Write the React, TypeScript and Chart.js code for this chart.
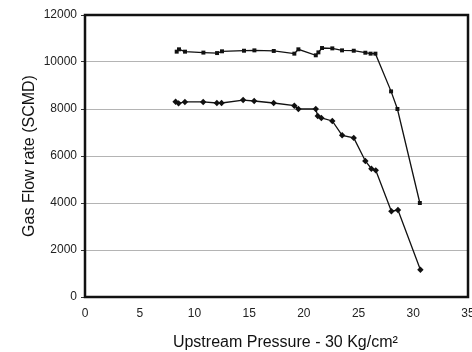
import React, { useEffect, useRef } from "react";
import { Chart, registerables } from "chart.js";

Chart.register(...registerables);

// Upper series (square markers)
const upperX = [8.38, 8.59, 9.14, 10.82, 12.07, 12.52, 14.53, 15.48, 17.25, 19.13, 19.5, 21.09, 21.33, 21.66, 22.6, 23.49, 24.56, 25.62, 26.1, 26.54, 27.97, 28.55, 30.6];
const upperY = [10440, 10540, 10440, 10400, 10380, 10455, 10480, 10495, 10470, 10355, 10540, 10285, 10410, 10595, 10580, 10495, 10480, 10395, 10355, 10355, 8750, 8000, 4000];

// Lower series (diamond markers)
const lowerX = [8.28, 8.55, 9.13, 10.8, 12.05, 12.48, 14.45, 15.46, 17.24, 19.13, 19.5, 21.09, 21.27, 21.6, 22.6, 23.5, 24.56, 25.62, 26.17, 26.57, 28.0, 28.6, 30.65];
const lowerY = [8310, 8240, 8300, 8300, 8255, 8255, 8380, 8340, 8255, 8140, 8000, 8000, 7700, 7620, 7490, 6880, 6770, 5790, 5460, 5390, 3650, 3700, 1160];

const xTitle = "\u00A0\u00A0\u00A0\u00A0Upstream Pressure - 30 Kg/cm\u00B2";
const yTitle = "Gas Flow rate (SCMD)";

const toPoints = (xs: number[], ys: number[]) => xs.map((x, i) => ({ x, y: ys[i] }));

const frame = {
  id: "frame",
  afterDraw(chart: any) {
    const { ctx, chartArea } = chart;
    ctx.save();
    ctx.strokeStyle = "#111";
    ctx.lineWidth = 2.5;
    ctx.strokeRect(chartArea.left, chartArea.top, chartArea.right - chartArea.left, chartArea.bottom - chartArea.top);
    ctx.restore();
  },
};

export default function App() {
  const ref = useRef<HTMLCanvasElement>(null);
  useEffect(() => {
    if (!ref.current) return;
    const font = "'Liberation Sans', Arial, sans-serif";
    const chart = new Chart(ref.current, {
      type: "line",
      data: {
        datasets: [
          {
            data: toPoints(upperX, upperY),
            borderColor: "#111",
            backgroundColor: "#111",
            borderWidth: 1.3,
            pointStyle: "rect",
            pointRadius: 2.8,
            pointBorderWidth: 0,
            tension: 0,
          },
          {
            data: toPoints(lowerX, lowerY),
            borderColor: "#111",
            backgroundColor: "#111",
            borderWidth: 1.3,
            pointStyle: "rectRot",
            pointRadius: 3.2,
            pointBorderWidth: 0,
            tension: 0,
          },
        ],
      },
      options: {
        responsive: false,
        animation: false,
        devicePixelRatio: 1,
        layout: { padding: { top: 15, right: 4, left: 0, bottom: 0 } },
        plugins: { legend: { display: false }, tooltip: { enabled: false } },
        scales: {
          x: {
            type: "linear",
            min: 0,
            max: 35,
            ticks: { stepSize: 5, color: "#222", font: { family: font, size: 12 }, padding: 9, maxRotation: 0, callback: (v: any) => String(v) },
            grid: { display: false, drawTicks: false },
            border: { display: false },
            title: { display: true, text: xTitle, color: "#111", font: { family: font, size: 16 }, padding: { top: 0, bottom: 0 } },
            afterFit(scale: any) {
              scale.height = 55;
              scale.paddingRight = 0;
              scale.paddingLeft = 0;
            },
          },
          y: {
            min: 0,
            max: 12000,
            ticks: { stepSize: 2000, color: "#222", font: { family: font, size: 12 }, padding: 4, callback: (v: any) => String(v) },
            grid: { color: "#b4b4b4", lineWidth: 1, drawTicks: true, tickLength: 4, tickColor: "#333" },
            border: { display: false },
            title: { display: true, text: yTitle, color: "#111", font: { family: font, size: 16 }, padding: { top: 20, bottom: 0 } },
            afterFit(scale: any) {
              scale.width = 85;
              scale.paddingTop = 0;
              scale.paddingBottom = 0;
            },
          },
        },
      },
      plugins: [frame],
    } as any);
    return () => chart.destroy();
  }, []);
  return (
    <div style={{ position: "fixed", left: 0, top: 0, width: 472, height: 352, overflow: "hidden", background: "#fff" }}>
      <canvas ref={ref} width={472} height={352} style={{ display: "block" }} />
    </div>
  );
}
